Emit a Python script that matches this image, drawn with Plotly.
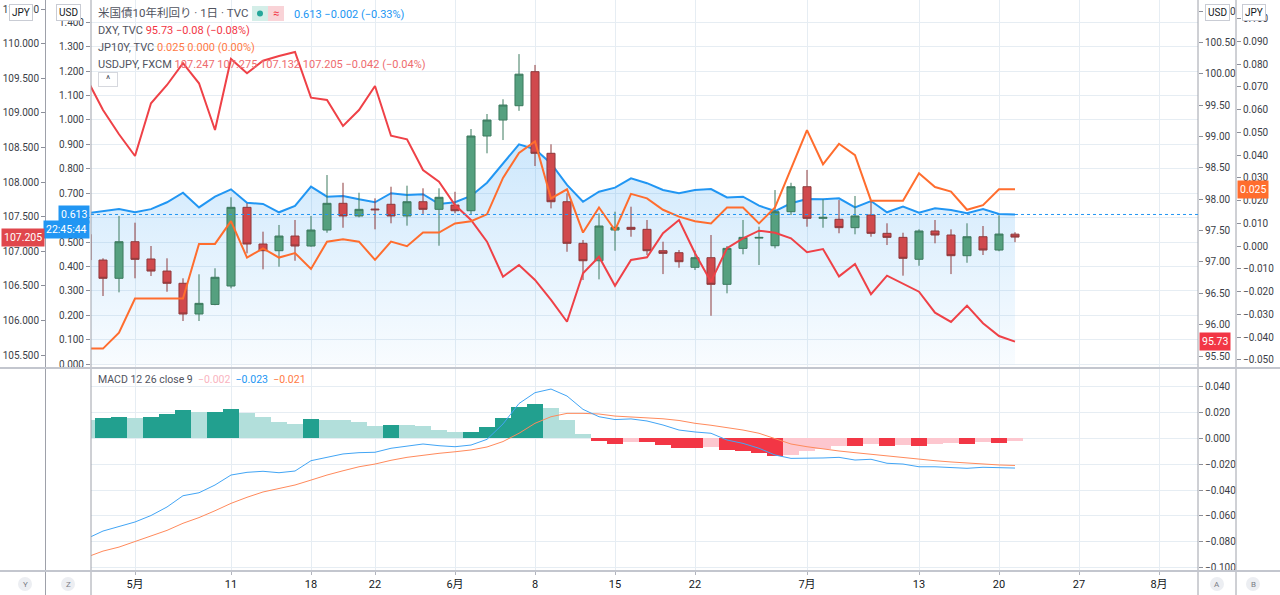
import plotly.graph_objects as go
import pandas as pd

# trading days with a bar (no bar on 5/25 and 7/3)
dates = [d for d in pd.bdate_range("2020-04-28", "2020-07-21").strftime("%Y-%m-%d")
         if d not in ("2020-05-25", "2020-07-03")]
future_days = list(pd.bdate_range("2020-07-22", "2020-08-14").strftime("%Y-%m-%d"))
axis_days = dates + future_days

tick_dates = ["2020-05-01", "2020-05-11", "2020-05-18", "2020-05-22", "2020-06-01", "2020-06-08",
              "2020-06-15", "2020-06-22", "2020-07-01", "2020-07-13", "2020-07-20", "2020-07-27",
              "2020-08-03"]
tick_labels = ["5月", "11", "18", "22", "6月", "8", "15", "22", "7月", "13", "20", "27", "8月"]

# USDJPY, FXCM (left JPY scale)
usdjpy_open = [107.245, 106.873, 106.609, 107.138, 106.888, 106.714, 106.537, 106.093, 106.231, 106.498,
               107.635, 107.105, 107.008, 107.220, 107.076, 107.307, 107.693, 107.510, 107.610, 107.679,
               107.510, 107.716, 107.606, 107.668, 107.586, 108.666, 108.897, 109.104, 109.596, 108.416,
               107.716, 107.115, 106.863, 107.307, 107.346, 107.317, 107.008, 106.979, 106.768, 106.907,
               106.522, 107.042, 107.190, 107.080, 107.572, 107.933, 107.476, 107.462, 107.341, 107.524,
               107.259, 107.201, 106.884, 107.293, 107.235, 106.936, 107.210, 107.018, 107.247]
usdjpy_high = [107.300, 106.898, 107.510, 107.413, 107.076, 106.898, 106.609, 106.667, 106.754, 107.780,
               107.693, 107.283, 107.380, 107.452, 107.510, 108.102, 107.990, 107.846, 107.765, 107.933,
               107.948, 107.910, 107.910, 107.860, 108.767, 108.984, 109.197, 109.850, 109.693, 108.546,
               107.838, 107.163, 107.548, 107.572, 107.644, 107.452, 107.138, 107.018, 107.008, 107.235,
               107.076, 107.452, 107.355, 107.885, 107.990, 108.175, 107.750, 107.740, 107.799, 107.740,
               107.404, 107.268, 107.317, 107.452, 107.317, 107.404, 107.365, 107.520, 107.275]
usdjpy_low = [106.800, 106.353, 106.406, 106.609, 106.642, 106.415, 105.992, 105.992, 106.220, 106.464,
              106.970, 106.739, 106.777, 106.863, 107.066, 107.268, 107.340, 107.490, 107.317, 107.404,
              107.370, 107.540, 107.080, 107.550, 107.524, 108.416, 108.608, 109.030, 108.232, 107.620,
              106.993, 106.584, 106.594, 107.008, 107.210, 106.946, 106.670, 106.762, 106.729, 106.068,
              106.392, 106.956, 106.801, 107.042, 107.524, 107.355, 107.340, 107.260, 107.245, 107.210,
              107.090, 106.647, 106.790, 107.115, 106.670, 106.834, 106.946, 107.000, 107.132]
usdjpy_close = [106.873, 106.609, 107.138, 106.883, 106.714, 106.537, 106.093, 106.247, 106.624, 107.635,
                107.105, 107.008, 107.220, 107.076, 107.307, 107.693, 107.510, 107.606, 107.600, 107.510,
                107.716, 107.606, 107.780, 107.586, 108.666, 108.897, 109.114, 109.560, 108.416, 107.716,
                107.115, 106.863, 107.365, 107.346, 107.317, 107.008, 106.970, 106.849, 106.907, 106.522,
                107.042, 107.201, 107.200, 107.572, 107.933, 107.476, 107.490, 107.341, 107.510, 107.259,
                107.201, 106.898, 107.293, 107.235, 106.936, 107.210, 107.018, 107.249, 107.205]

# 米国債10年利回り (left USD scale)
us10y = [0.618, 0.628, 0.635, 0.622, 0.635, 0.663, 0.702, 0.642, 0.686, 0.716,
         0.661, 0.656, 0.622, 0.648, 0.727, 0.686, 0.689, 0.675, 0.663, 0.700,
         0.693, 0.696, 0.656, 0.663, 0.689, 0.743, 0.822, 0.900, 0.880, 0.822,
         0.734, 0.665, 0.706, 0.723, 0.761, 0.741, 0.713, 0.700, 0.713, 0.717,
         0.683, 0.686, 0.649, 0.627, 0.659, 0.676, 0.675, 0.679, 0.642, 0.668,
         0.622, 0.645, 0.620, 0.638, 0.631, 0.618, 0.635, 0.615, 0.613]

# DXY, TVC (right USD scale)
dxy = [99.915, 99.425, 99.038, 98.691, 99.532, 99.824, 100.171, 99.851, 99.106, 100.239,
       100.011, 100.212, 100.287, 100.351, 99.622, 99.585, 99.170, 99.425, 99.808, 99.015,
       98.958, 98.468, 98.281, 97.909, 97.670, 97.324, 96.765, 96.952, 96.713, 96.394,
       96.047, 96.820, 97.084, 96.622, 97.032, 97.075, 97.458, 97.670, 97.139, 96.686,
       97.219, 97.378, 97.499, 97.467, 97.378, 97.155, 97.207, 96.770, 96.968, 96.485,
       96.781, 96.660, 96.526, 96.191, 96.043, 96.303, 96.022, 95.819, 95.730]

# JP10Y, TVC (right JPY scale)
jp10y = [-0.045, -0.045, -0.038, -0.023, -0.023, -0.023, -0.023, 0.001, 0.001, 0.011,
         -0.005, -0.001, -0.005, -0.003, -0.010, 0.002, 0.003, 0.002, -0.006, 0.002,
         0.000, 0.006, 0.006, 0.010, 0.011, 0.014, 0.030, 0.041, 0.046, 0.021,
         0.025, 0.006, 0.017, 0.007, 0.023, 0.021, 0.016, 0.013, 0.011, 0.010,
         0.017, 0.017, 0.010, 0.017, 0.034, 0.051, 0.036, 0.045, 0.040, 0.020,
         0.020, 0.020, 0.032, 0.026, 0.024, 0.016, 0.018, 0.025, 0.025]

# MACD 12 26 close 9
macd_line = [-0.0775, -0.0717, -0.0682, -0.0647, -0.0597, -0.0531, -0.0444, -0.0421, -0.0361, -0.0284,
             -0.0263, -0.0255, -0.0266, -0.0253, -0.0173, -0.0147, -0.0121, -0.0111, -0.0108, -0.0077,
             -0.0060, -0.0044, -0.0057, -0.0065, -0.0052, -0.0008, 0.0111, 0.0269, 0.0353, 0.0381,
             0.0327, 0.0224, 0.0167, 0.0145, 0.0150, 0.0134, 0.0103, 0.0064, 0.0049, 0.0039,
             -0.0013, -0.0039, -0.0077, -0.0129, -0.0155, -0.0155, -0.0152, -0.0147, -0.0168, -0.0162,
             -0.0193, -0.0199, -0.0220, -0.0220, -0.0224, -0.0232, -0.0224, -0.0227, -0.0230]
signal_line = [-0.0918, -0.0872, -0.0841, -0.0798, -0.0752, -0.0712, -0.0657, -0.0613, -0.0560, -0.0503,
               -0.0456, -0.0415, -0.0388, -0.0361, -0.0323, -0.0284, -0.0251, -0.0220, -0.0199, -0.0170,
               -0.0147, -0.0129, -0.0116, -0.0104, -0.0090, -0.0067, -0.0025, 0.0039, 0.0116, 0.0167,
               0.0193, 0.0193, 0.0188, 0.0172, 0.0166, 0.0161, 0.0151, 0.0138, 0.0116, 0.0101,
               0.0085, 0.0064, 0.0039, 0.0000, -0.0044, -0.0065, -0.0083, -0.0098, -0.0111, -0.0124,
               -0.0137, -0.0150, -0.0162, -0.0173, -0.0183, -0.0191, -0.0201, -0.0206, -0.0210]
macd_hist = [0.0142, 0.0155, 0.0165, 0.0159, 0.0165, 0.0188, 0.0219, 0.0201, 0.0203, 0.0224,
             0.0198, 0.0165, 0.0124, 0.0111, 0.0149, 0.0144, 0.0139, 0.0124, 0.0097, 0.0103,
             0.0101, 0.0095, 0.0064, 0.0046, 0.0051, 0.0085, 0.0157, 0.0240, 0.0265, 0.0234,
             0.0139, 0.0031, -0.0021, -0.0042, -0.0029, -0.0031, -0.0052, -0.0073, -0.0074, -0.0065,
             -0.0090, -0.0096, -0.0116, -0.0137, -0.0129, -0.0098, -0.0080, -0.0060, -0.0062, -0.0044,
             -0.0062, -0.0054, -0.0062, -0.0044, -0.0039, -0.0042, -0.0031, -0.0033, -0.0020]

W, H = 1280, 595
PB = 571  # pixel row where the plotting area ends (time scale below)


def fx(p):
    return p / W


def fy(p):
    return (PB - p) / PB


x = list(range(len(dates)))
tick_x = [axis_days.index(d) for d in tick_dates]

# histogram colours: rising/falling above and below zero
hist_colors = []
for i, h in enumerate(macd_hist):
    prev = macd_hist[i - 1] if i > 0 else None
    if h >= 0:
        hist_colors.append('#22a08f' if prev is not None and h > prev else '#b2dfdb')
    else:
        hist_colors.append('#f23645' if prev is not None and h < prev else '#fdc7cf')

BLUE = '#2196f3'
RED = '#f23645'
ORANGE = '#ff6d2e'
GRID = '#e6edf3'
TXT = '#3b3e47'
FONT = '"Liberation Sans Narrow", Roboto, "Noto Sans CJK JP", sans-serif'

fig = go.Figure()

fig.add_trace(go.Scatter(
    x=x, y=us10y, mode='lines', line=dict(color=BLUE, width=2),
    fill='tozeroy',
    fillgradient=dict(type='vertical',
                      colorscale=[[0, 'rgba(33,150,243,0.03)'], [1, 'rgba(33,150,243,0.22)']]),
    xaxis='x', yaxis='y', hoverinfo='skip'
))

fig.add_trace(go.Candlestick(
    x=x, open=usdjpy_open, high=usdjpy_high, low=usdjpy_low, close=usdjpy_close,
    increasing=dict(line=dict(color='#3d7a5f', width=1), fillcolor='#55a07f'),
    decreasing=dict(line=dict(color='#8e3a3d', width=1), fillcolor='#d0494d'),
    whiskerwidth=0, xaxis='x', yaxis='y2', hoverinfo='skip'
))

fig.add_trace(go.Scatter(
    x=x, y=dxy, mode='lines', line=dict(color='#ef4147', width=2),
    xaxis='x', yaxis='y3', hoverinfo='skip'
))

fig.add_trace(go.Scatter(
    x=x, y=jp10y, mode='lines', line=dict(color=ORANGE, width=2),
    xaxis='x', yaxis='y4', hoverinfo='skip'
))

# MACD pane
fig.add_trace(go.Bar(
    x=x, y=macd_hist, marker=dict(color=hist_colors, line=dict(width=0)), width=0.94,
    xaxis='x2', yaxis='y5', hoverinfo='skip'
))
fig.add_trace(go.Scatter(
    x=x, y=signal_line, mode='lines', line=dict(color='#ff8a5c', width=1),
    xaxis='x2', yaxis='y5', hoverinfo='skip'
))
fig.add_trace(go.Scatter(
    x=x, y=macd_line, mode='lines', line=dict(color='#42a5f5', width=1),
    xaxis='x2', yaxis='y5', hoverinfo='skip'
))

tick_font = dict(family=FONT, size=10, color=TXT)
yax = dict(ticks='outside', ticklen=4, tickcolor='#8c8f99', tickfont=tick_font,
           zeroline=False, showline=False, fixedrange=True, ticklabeloverflow='allow')
dom_x = [fx(91), fx(1198)]
x_range = [0.25, 69.4375]

fig.update_layout(
    width=W, height=H,
    margin=dict(l=0, r=0, t=0, b=H - PB, autoexpand=False),
    paper_bgcolor='white', plot_bgcolor='white',
    showlegend=False, bargap=0, boxgap=0.28,
    font=dict(family=FONT, size=11, color=TXT),
    xaxis=dict(domain=dom_x, range=x_range, anchor='y', tickvals=tick_x, ticktext=tick_labels,
               showticklabels=False, ticks='', showgrid=True, gridcolor=GRID, zeroline=False,
               rangeslider=dict(visible=False)),
    xaxis2=dict(domain=dom_x, range=x_range, anchor='y5', tickvals=tick_x, ticktext=tick_labels,
                showticklabels=True, ticks='outside', ticklen=3, tickcolor='#b2b5be',
                tickfont=dict(family=FONT, size=11, color='#131722'),
                showgrid=True, gridcolor=GRID, zeroline=False),
    yaxis=dict(domain=[fy(367), 1], range=[-0.01105, 1.4906], dtick=0.1, tick0=0,
               tickformat='.3f', side='left', anchor='x', showgrid=True, gridcolor=GRID, **yax),
    yaxis2=dict(overlaying='y', side='left', anchor='free', position=fx(45),
                range=[105.327, 110.632], dtick=0.5, tick0=0, tickformat='.3f',
                showgrid=False, **yax),
    yaxis3=dict(overlaying='y', side='right', anchor='x', range=[95.3245, 101.18],
                dtick=0.5, tick0=0, tickformat='.2f', showgrid=False, **yax),
    yaxis4=dict(overlaying='y', side='right', anchor='free', position=fx(1236),
                range=[-0.05308, 0.10817], dtick=0.01, tick0=0, tickformat='.3f',
                showgrid=False, **yax),
    yaxis5=dict(domain=[0, fy(369)], anchor='x2', side='right', range=[-0.1026, 0.0536],
                dtick=0.02, tick0=0, tickformat='.3f', showgrid=True, gridcolor=GRID, **yax),
)

shapes = []
# scale separators
for px_ in [45.5, 91, 1198, 1236]:
    shapes.append(dict(type='line', xref='paper', yref='paper', x0=fx(px_), x1=fx(px_),
                       y0=fy(H), y1=1, line=dict(color='#9ea1aa', width=1)))
for py_ in [368, 571]:
    shapes.append(dict(type='line', xref='paper', yref='paper', x0=0, x1=1,
                       y0=fy(py_), y1=fy(py_), line=dict(color='#c3c6ce', width=2)))
# last value of the yield, dotted across the pane
shapes.append(dict(type='line', xref='paper', yref='y', x0=dom_x[0], x1=dom_x[1],
                   y0=us10y[-1], y1=us10y[-1], line=dict(color=BLUE, width=1, dash='dot')))
# status pill next to the title
shapes.append(dict(type='rect', xref='paper', yref='paper', x0=fx(252), x1=fx(268),
                   y0=fy(21), y1=fy(6), line=dict(width=0), fillcolor='#d4eee8'))
shapes.append(dict(type='rect', xref='paper', yref='paper', x0=fx(268), x1=fx(284),
                   y0=fy(21), y1=fy(6), line=dict(width=0), fillcolor='#f9d3d7'))
shapes.append(dict(type='circle', xref='paper', yref='paper', x0=fx(257), x1=fx(263),
                   y0=fy(16.5), y1=fy(10.5), line=dict(width=0), fillcolor='#26a69a'))
# corner buttons of the time scale
for cx in [25, 68, 1217, 1253]:
    shapes.append(dict(type='circle', xref='paper', yref='paper', x0=fx(cx - 7), x1=fx(cx + 7),
                       y0=fy(591), y1=fy(577), line=dict(width=0), fillcolor='#eceef2'))
fig.update_layout(shapes=shapes)

ann = []


def text(px_, py_, s, size=11, color=TXT, xanchor='left', **kw):
    ann.append(dict(xref='paper', yref='paper', x=fx(px_), y=fy(py_), text=s, showarrow=False,
                    xanchor=xanchor, yanchor='middle', font=dict(family=FONT, size=size, color=color),
                    **kw))


NB = '\u00a0'
grey = '#50535e'

text(96, 13, '米国債10年利回り · 1日 · TVC', size=11.5, color=grey)
text(276, 13.5, '≈', size=11, color='#f23645', xanchor='center')
text(292, 14, '0.613 −0.002 (−0.33%)', color=BLUE)
text(96, 30, f'<span style="color:{grey}">DXY, TVC</span> '
             f'<span style="color:{RED}">95.73 −0.08 (−0.08%)</span>')
text(96, 47, f'<span style="color:{grey}">JP10Y, TVC</span> '
             f'<span style="color:#ff7a45">0.025 0.000 (0.00%)</span>')
text(96, 64, f'<span style="color:{grey}">USDJPY, FXCM</span> '
             f'<span style="color:#ee6b6e">107.247 107.275 107.132 107.205 −0.042 (−0.04%)</span>')
text(107.5, 79.5, '^', size=10, color=grey, xanchor='center', width=16, height=11,
     bordercolor='#d6d8de', borderwidth=1, borderpad=1, bgcolor='white')
text(96, 379, f'<span style="color:{grey}">MACD 12 26 close 9</span>{NB}{NB}'
              f'<span style="color:#f9b4c0">−0.002</span>{NB}{NB}'
              f'<span style="color:{BLUE}">−0.023</span>{NB}{NB}'
              f'<span style="color:#ff7a45">−0.021</span>', size=10.5)

# currency badges on top of each scale
for cx, lab in [(21, 'JPY'), (68, 'USD'), (1217, 'USD'), (1254, 'JPY')]:
    text(cx, 13, lab, size=10, color='#131722', xanchor='center', bgcolor='white',
         bordercolor='#c9ccd4', borderwidth=1, borderpad=2)

for cx, lab in [(25, 'Y'), (68, 'Z'), (1217, 'A'), (1253, 'B')]:
    text(cx, 584, lab, size=8, color='#7a7d86', xanchor='center')

# last-value labels on the scales
lab_font = dict(family=FONT, size=10.5, color='white')
ann.append(dict(xref='paper', yref='y', x=fx(90), y=us10y[-1], text='0.613', showarrow=False,
                xanchor='right', yanchor='middle', bgcolor=BLUE, borderpad=2, font=lab_font))
ann.append(dict(xref='paper', yref='y', x=fx(90), y=us10y[-1], yshift=-15, text='22:45:44',
                showarrow=False, xanchor='right', yanchor='middle', bgcolor=BLUE, borderpad=2,
                font=lab_font))
ann.append(dict(xref='paper', yref='y2', x=fx(45), y=usdjpy_close[-1], text='107.205',
                showarrow=False, xanchor='right', yanchor='middle', bgcolor='#e0474c', borderpad=2,
                font=lab_font))
ann.append(dict(xref='paper', yref='y3', x=fx(1199), y=dxy[-1], text='95.73', showarrow=False,
                xanchor='left', yanchor='middle', bgcolor=RED, borderpad=2, font=lab_font))
ann.append(dict(xref='paper', yref='y4', x=fx(1237), y=jp10y[-1], text='0.025', showarrow=False,
                xanchor='left', yanchor='middle', bgcolor=ORANGE, borderpad=2, font=lab_font))

fig.update_layout(annotations=ann)

# the page's default body margin would shift the fixed-size chart by 8px
fig.write_html("out.html", config={'displayModeBar': False},
               post_script="document.body.style.margin='0px';")
